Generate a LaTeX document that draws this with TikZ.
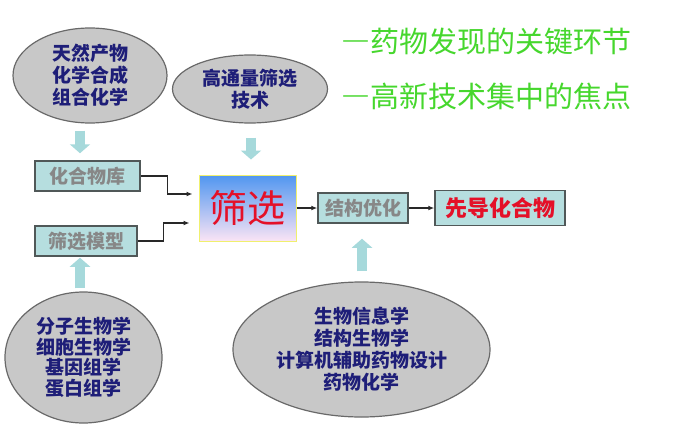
\documentclass[tikz,border=0pt]{standalone}
\usepackage{fontspec}
\newfontfamily\cjk{Noto Sans CJK SC}
\usetikzlibrary{arrows.meta,positioning,shapes.geometric}

\definecolor{ovalfill}{RGB}{200,200,200}
\definecolor{ovalline}{RGB}{105,105,105}
\definecolor{navy}{RGB}{30,30,120}
\definecolor{boxfill}{RGB}{182,222,223}
\definecolor{boxline}{RGB}{80,88,88}
\definecolor{boxtext}{RGB}{135,135,135}
\definecolor{linkgray}{RGB}{40,40,40}
\definecolor{arrowcyan}{RGB}{166,217,219}
\definecolor{screentop}{RGB}{80,150,240}
\definecolor{screenbot}{RGB}{250,228,245}
\definecolor{screenline}{RGB}{240,240,110}
\definecolor{hotred}{RGB}{228,16,40}
\definecolor{slogreen}{RGB}{70,215,45}

\newcommand{\wdash}{{\addfontfeatures{RawFeature=+fwid}\bfseries —}}

\begin{document}
\begin{tikzpicture}[x=1pt,y=-1pt,
  oval/.style={ellipse, draw=ovalline, fill=ovalfill, line width=1.2pt,
    inner sep=0pt, text=navy, align=center,
    font=\cjk\bfseries\fontsize{19}{22}\selectfont},
  box/.style={draw=boxline, fill=boxfill, line width=1.5pt, inner sep=0pt,
    text=boxtext, font=\cjk\bfseries\fontsize{19}{22}\selectfont},
  link/.style={-{Latex[length=6pt,width=5pt]}, line width=1.2pt, draw=linkgray},
  bigarrow/.style={-{Triangle[length=9pt,width=20pt]}, line width=10pt, draw=arrowcyan},
  slogan/.style={anchor=west, text=slogreen, font=\cjk\fontsize{29}{34}\selectfont},
]
\useasboundingbox[fill=white] (0,0) rectangle (685,436);

% sources
\node[oval, minimum width=154, minimum height=95] (nat) at (90,75.5) {天然产物\\化学合成\\组合化学};
\node[oval, minimum width=155, minimum height=68] (hts) at (250,89) {高通量筛选\\技术};
\node[oval, minimum width=157, minimum height=131,
  font=\cjk\bfseries\fontsize{19}{20.5}\selectfont] (mol) at (83.5,357.5) {分子生物学\\细胞生物学\\基因组学\\蛋白组学};
\node[oval, minimum width=257, minimum height=135] (bio) at (361.5,349.5) {生物信息学\\结构生物学\\计算机辅助药物设计\\药物化学};

% pipeline
\node[box, minimum width=105, minimum height=30] (lib) at (87.5,176) {化合物库};
\node[box, minimum width=102, minimum height=30] (mod) at (86,241) {筛选模型};
\node[draw=screenline, line width=1pt, top color=screentop, bottom color=screenbot,
  minimum width=97, minimum height=66, inner sep=0pt, text=hotred,
  font=\cjk\fontsize{38}{40}\selectfont] (scr) at (247.5,208) {筛选};
\node[box, minimum width=90, minimum height=30] (opt) at (363,208) {结构优化};
\node[box, minimum width=130, minimum height=35, text=hotred,
  font=\cjk\bfseries\fontsize{22}{24}\selectfont] (lead) at (500,208) {先导化合物};

% slogans
\node[slogan] (slo1) at (338,41) {\wdash 药物发现的关键环节};
\node[slogan] (slo2) at (338,96) {\wdash 高新技术集中的焦点};

% block arrows
\draw[bigarrow] ([xshift=-10pt,yshift=-7pt]nat.south) -- ([xshift=-7.5pt,yshift=7pt]lib.north);
\draw[bigarrow] ([xshift=1pt,yshift=-14pt]hts.south) -- ([xshift=3.5pt,yshift=15pt]scr.north);
\draw[bigarrow] ([xshift=-3.5pt,yshift=3pt]mol.north) -- ([xshift=-6pt,yshift=-1pt]mod.south);
\draw[bigarrow] ([xshift=0.5pt,yshift=10pt]bio.north) -- ([xshift=-1pt,yshift=-15pt]opt.south);

% links
\draw[link] (lib.east) -- ++(27,0) |- ([xshift=-6pt,yshift=14pt]scr.west);
\draw[link] (mod.east) -- ++(26,0) |- ([xshift=-9pt,yshift=-15pt]scr.west);
\draw[link] (scr) -- (opt);
\draw[link] (opt) -- (lead);

\end{tikzpicture}
\end{document}
